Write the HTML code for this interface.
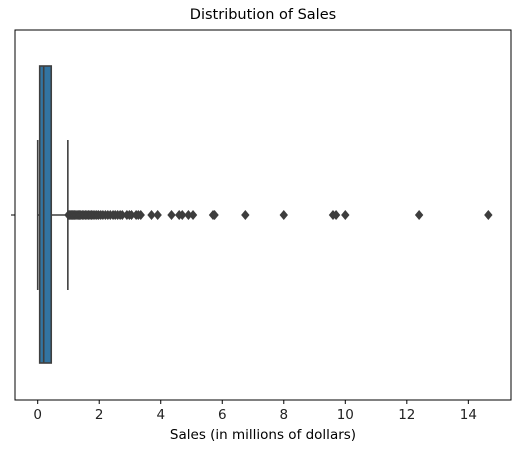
<!DOCTYPE html>
<html><head><meta charset="utf-8"><style>
body{margin:0;background:#fff}
svg{display:block;font-family:"DejaVu Sans","Liberation Sans",sans-serif}
</style></head><body>
<svg id="c" width="520" height="453" xmlns="http://www.w3.org/2000/svg"></svg>
<script>
const stats = [0.065, 0.195, 0.44]; // q1, median, q3
const whiskers = [0, 0.98];
const outliers = [1.0,1.03,1.06,1.1,1.13,1.17,1.2,1.24,1.28,1.32,1.36,1.4,1.45,1.5,1.55,1.6,1.65,1.7,1.75,1.8,1.86,1.92,1.98,2.05,2.12,2.2,2.28,2.36,2.45,2.52,2.6,2.68,2.75,2.9,2.98,3.05,3.2,3.27,3.35,3.7,3.9,4.35,4.6,4.7,4.9,5.05,5.7,5.75,6.75,8.0,9.6,9.7,10.0,12.4,14.65];
const ticks = [0,2,4,6,8,10,12,14];
const NS="http://www.w3.org/2000/svg", svg=document.getElementById('c');
const L=15,R=511,T=30,B=400;
const x=v=>37.7+v*30.76;
const cy=215;
function el(t,a,p){const e=document.createElementNS(NS,t);for(const k in a)e.setAttribute(k,a[k]);(p||svg).appendChild(e);return e;}
const ec="#3f3f3f";
let w=el('line',{x1:x(whiskers[0]),x2:x(stats[0]),y1:cy,y2:cy,stroke:ec,'stroke-width':1.6});

w=el('line',{x1:x(stats[2]),x2:x(whiskers[1]),y1:cy,y2:cy,stroke:ec,'stroke-width':1.6});

for(const v of whiskers){const c=el('line',{x1:x(v),x2:x(v),y1:140,y2:290,stroke:ec,'stroke-width':1.6});
}
const bx=el('rect',{x:x(stats[0]),y:66,width:x(stats[2])-x(stats[0]),height:297,fill:'#3274a1',stroke:ec,'stroke-width':1.6});

const md=el('line',{x1:x(stats[1]),x2:x(stats[1]),y1:66,y2:363,stroke:ec,'stroke-width':1.6});

for(const v of outliers){const px=x(v);
const d=el('polygon',{points:`${px},${cy-5} ${px+4.2},${cy} ${px},${cy+5} ${px-4.2},${cy}`,fill:'#3d3d3d'});
}
const fr=el('rect',{x:L,y:T,width:R-L,height:B-T,fill:'none',stroke:'#000','stroke-width':1});

el('line',{x1:L-4,x2:L,y1:cy,y2:cy,stroke:'#000'});
for(const t of ticks){el('line',{x1:x(t),x2:x(t),y1:B,y2:B+4,stroke:'#000'});
const tx=el('text',{x:x(t),y:B+19,'text-anchor':'middle','font-size':13.5,fill:'#222'});tx.textContent=t;
}
</script>
<div style="position:absolute;left:0;top:0;width:520px;height:453px;pointer-events:none">
<div style="position:absolute;top:7px;width:526px;text-align:center;font:14.5px 'DejaVu Sans',sans-serif;color:#000">Distribution of Sales</div>
<div style="position:absolute;top:427px;left:0;width:526px;text-align:center;font:13.5px 'DejaVu Sans',sans-serif;color:#000">Sales (in millions of dollars)</div>
</div>
</body></html>
